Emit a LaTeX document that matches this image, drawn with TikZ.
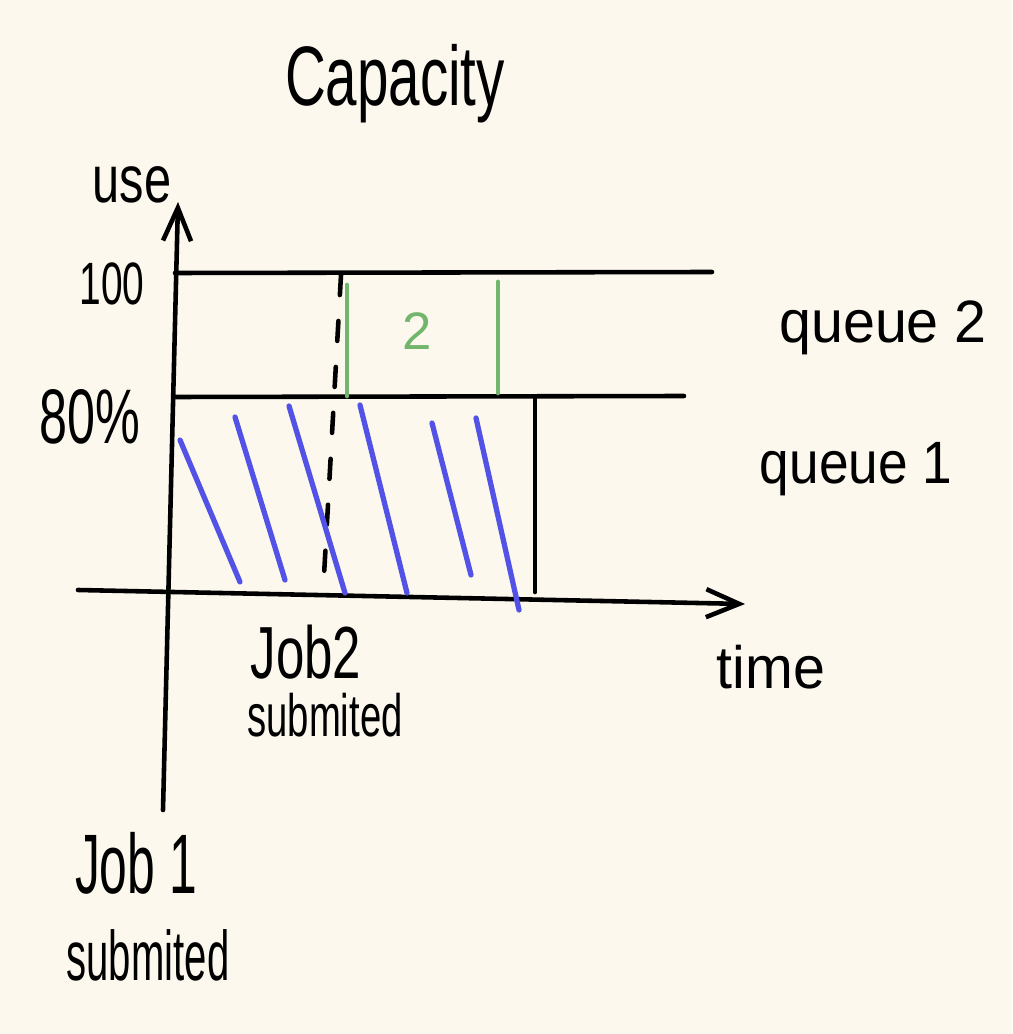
\documentclass[tikz,border=0pt]{standalone}
\usepackage{fontspec}
\setmainfont{Liberation Sans}
\usetikzlibrary{arrows.meta}
\definecolor{paper}{HTML}{FCF8EE}
\definecolor{qblue}{HTML}{5252E6}
\definecolor{qgreen}{HTML}{72B56C}
\newcommand\hwtext[3]{\scalebox{#2}[1]{\fontsize{#1}{#1}\selectfont #3}}
\begin{document}
\begin{tikzpicture}[x=0.01cm,y=-0.01cm,
  ink/.style={line width=1.3pt, line cap=round, line join=round, black},
  hatch/.style={line width=1.5pt, line cap=round, qblue},
  gline/.style={line width=1.4pt, line cap=round, qgreen},
  axis/.style={ink, -{Straight Barb[length=0.33cm,width=0.28cm]}},
  lbl/.style={inner sep=0pt, anchor=base},
]
\fill[paper] (0,0) rectangle (1012,1034);
\useasboundingbox (0,0) rectangle (1012,1034);

% coordinates
\coordinate (yb) at (163,810);
\coordinate (yt) at (178,202);
\coordinate (xl) at (78,590);
\coordinate (xr) at (745,604);
\coordinate (h100l) at (175,273);
\coordinate (h100r) at (712,272);
\coordinate (h80l) at (174,397);
\coordinate (h80r) at (684,396);
\coordinate (vt) at (535,397);
\coordinate (vb) at (535,592);
\coordinate (dt) at (341,275);
\coordinate (db) at (323,593);
\coordinate (g1t) at (347,285);
\coordinate (g1b) at (347,396);
\coordinate (g2t) at (498,282);
\coordinate (g2b) at (498,393);

% axes
\draw[axis] (yb) -- (yt);
\draw[axis] (xl) -- (xr);

% capacity lines
\draw[ink] (h100l) -- (h100r);
\draw[ink] (h80l) -- (h80r);
\draw[ink] (vt) -- (vb);
\draw[ink, dash pattern=on 0.2cm off 0.26cm] (dt) -- (db);

% green job 2 block
\draw[gline] (g1t) -- (g1b);
\draw[gline] (g2t) -- (g2b);

% blue hatching of queue 1
\coordinate (b1a) at (180,440); \coordinate (b1b) at (240,582);
\coordinate (b2a) at (235,417); \coordinate (b2b) at (285,580);
\coordinate (b3a) at (289,406); \coordinate (b3b) at (345,593);
\coordinate (b4a) at (360,405); \coordinate (b4b) at (407,593);
\coordinate (b5a) at (432,423); \coordinate (b5b) at (471,575);
\coordinate (b6a) at (476,418); \coordinate (b6b) at (519,610);
\draw[hatch] (b1a) -- (b1b);
\draw[hatch] (b2a) -- (b2b);
\draw[hatch] (b3a) -- (b3b);
\draw[hatch] (b4a) -- (b4b);
\draw[hatch] (b5a) -- (b5b);
\draw[hatch] (b6a) -- (b6b);

% labels
\node[lbl] (title) at (395,106) {\hwtext{24}{0.67}{Capacity}};
\node[lbl] (use) at (132,203) {\hwtext{19}{0.73}{use}};
\node[lbl] (l100) at (112,305) {\hwtext{17}{0.65}{100}};
\node[lbl] (l80) at (90,444) {\hwtext{22}{0.65}{80\%}};
\node[lbl] (q2) at (883,343) {\hwtext{17}{0.96}{queue 2}};
\node[lbl] (q1) at (856,483) {\hwtext{17}{0.89}{queue 1}};
\node[lbl, text=qgreen] (two) at (417,350) {\hwtext{15}{1}{2}};
\node[lbl] (time) at (771,688) {\hwtext{17}{0.96}{time}};
\node[lbl] (job2a) at (306,678) {\hwtext{21}{0.69}{Job2}};
\node[lbl] (job2b) at (325,736) {\hwtext{17}{0.64}{submited}};
\node[lbl] (job1a) at (136,893) {\hwtext{24}{0.59}{Job 1}};
\node[lbl] (job1b) at (148,980) {\hwtext{20}{0.57}{submited}};
\end{tikzpicture}
\end{document}
